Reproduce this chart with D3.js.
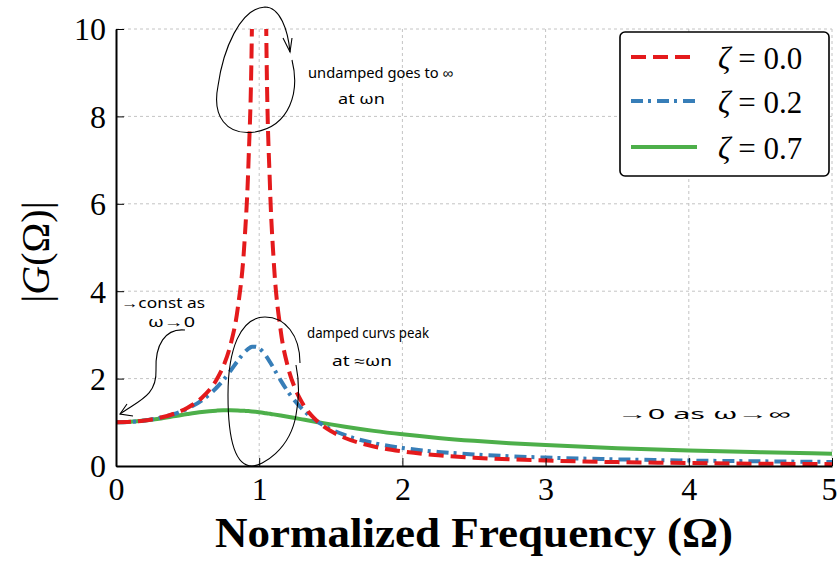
<!DOCTYPE html>
<html>
<head>
<meta charset="utf-8">
<script src="https://cdn.jsdelivr.net/npm/d3@7/dist/d3.min.js"></script>
<style>
  html, body { margin: 0; padding: 0; background: #fff; }
  svg { display: block; }
</style>
</head>
<body>
<svg id="chart" width="838" height="562"></svg>
<script>
// ---- Data ----
const omega = [0, 0.1, 0.2, 0.3, 0.4, 0.5, 0.6, 0.7, 0.75, 0.8, 0.85, 0.9, 0.925, 0.95, 0.975, 1.0,
  1.025, 1.05, 1.075, 1.1, 1.15, 1.2, 1.25, 1.3, 1.4, 1.5, 1.6, 1.8, 2.0, 2.25, 2.5, 2.75, 3.0, 3.5, 4.0, 4.5, 5.0];
const zeta00 = [1.0, 1.010, 1.042, 1.099, 1.190, 1.333, 1.563, 1.961, 2.286, 2.778, 3.604, 5.263, 6.926, 10.26, 20.25, null,
  19.75, 9.756, 6.426, 4.762, 3.101, 2.273, 1.778, 1.449, 1.042, 0.800, 0.641, 0.446, 0.333, 0.246, 0.190, 0.152, 0.125, 0.089, 0.067, 0.052, 0.042];
const zeta02 = [1.0, 1.010, 1.041, 1.097, 1.184, 1.314, 1.505, 1.785, 1.968, 2.180, 2.407, 2.611, 2.685, 2.727, 2.731, 2.693,
  2.616, 2.509, 2.380, 2.241, 1.959, 1.704, 1.486, 1.305, 1.031, 0.841, 0.704, 0.524, 0.413, 0.323, 0.265, 0.223, 0.193, 0.152, 0.125, 0.107, 0.093];
const zeta07 = [1.0, 1.010, 1.039, 1.082, 1.135, 1.190, 1.237, 1.267, 1.275, 1.276, 1.272, 1.262, 1.256, 1.248, 1.239, 1.229,
  1.218, 1.207, 1.194, 1.181, 1.154, 1.126, 1.097, 1.067, 1.008, 0.952, 0.899, 0.804, 0.725, 0.643, 0.577, 0.523, 0.478, 0.408, 0.355, 0.315, 0.283];
const seriesNames = ["\u03B6 = 0.0", "\u03B6 = 0.2", "\u03B6 = 0.7"];
const xTicks = [0, 1, 2, 3, 4, 5];
const yTicks = [0, 2, 4, 6, 8, 10];
const xLabel = "Normalized Frequency (\u03A9)";
const annotations = [
  {text: "undamped goes to \u221E", x: 308, y: 78, w: 145},
  {text: "at \u03C9n", x: 338, y: 104, w: 47},
  {text: "\u2192const as", x: 121, y: 308, w: 84},
  {text: "\u03C9\u21920", x: 148, y: 327, w: 47},
  {text: "damped curvs peak", x: 307, y: 338, w: 122},
  {text: "at \u2248\u03C9n", x: 332, y: 366, w: 60},
  {text: "\u21920  as  \u03C9\u2192\u221E", x: 617, y: 419, w: 173}
];

// ---- Layout ----
const svg = d3.select("#chart");
const L = 116, R = 832, T = 29, B = 466;
const x = d3.scaleLinear().domain([0, 5]).range([L, R]);
const y = d3.scaleLinear().domain([0, 10]).range([B, T]);
const serif = "'Liberation Serif', 'DejaVu Serif', serif";

// grid
const grid = svg.append("g");
grid.selectAll("line.gx").data(xTicks.filter(d => d > 0)).join("line")
  .attr("x1", d => x(d)).attr("x2", d => x(d)).attr("y1", T).attr("y2", B)
  .attr("stroke", "#c4c4c4").attr("stroke-width", 1).attr("stroke-dasharray", "3,3");
grid.selectAll("line.gy").data(yTicks.filter(d => d > 0)).join("line")
  .attr("x1", L).attr("x2", R).attr("y1", d => y(d)).attr("y2", d => y(d))
  .attr("stroke", "#c4c4c4").attr("stroke-width", 1).attr("stroke-dasharray", "3,3");

// clip
svg.append("clipPath").attr("id", "plotclip").append("rect")
  .attr("x", L).attr("y", T).attr("width", R - L).attr("height", B - T);

const styles = [
  {vals: zeta00, color: "#e41a1c", dash: "15,7", width: 4},
  {vals: zeta02, color: "#377eb8", dash: "12,5,3,6", width: 4},
  {vals: zeta07, color: "#4daf4a", dash: null, width: 4}
];
const line = d3.line().defined(d => d[1] !== null)
  .x(d => x(d[0])).y(d => y(d[1])).curve(d3.curveMonotoneX);
const lines = svg.append("g").attr("clip-path", "url(#plotclip)");
styles.slice().reverse().forEach(s => {
  lines.append("path")
    .datum(omega.map((o, i) => [o, s.vals[i]]))
    .attr("d", line)
    .attr("fill", "none")
    .attr("stroke", s.color)
    .attr("stroke-width", s.width)
    .attr("stroke-dasharray", s.dash);
});

// axes
const xAxis = svg.append("g").attr("transform", `translate(0,${B})`)
  .call(d3.axisBottom(x).tickValues(xTicks).tickSizeInner(-8).tickSizeOuter(0).tickPadding(14).tickFormat(d3.format("d")));
const yAxis = svg.append("g").attr("transform", `translate(${L},0)`)
  .call(d3.axisLeft(y).tickValues(yTicks).tickSizeInner(-8).tickSizeOuter(0).tickPadding(10).tickFormat(d3.format("d")));
[xAxis, yAxis].forEach(a => {
  a.select(".domain").attr("stroke", "#000").attr("stroke-width", 2);
  a.selectAll(".tick line").attr("stroke", "#000").attr("stroke-width", 1);
  a.selectAll(".tick text").attr("font-family", serif).attr("font-size", 32).attr("fill", "#000");
});
xAxis.selectAll(".tick text").attr("dy", "0.62em");
// keep the last x tick label inside the picture
xAxis.selectAll(".tick text").filter(d => d === 5).attr("text-anchor", "end").attr("x", 837 - R);
yAxis.selectAll(".tick text").attr("dy", "0.34em");

// axis labels
svg.append("text").attr("x", 215).attr("y", 547)
  .attr("font-family", serif).attr("font-weight", "bold").attr("font-size", 42)
  .attr("textLength", 518).attr("lengthAdjust", "spacingAndGlyphs")
  .text(xLabel);
const yl = svg.append("text").attr("transform", "translate(49,252) rotate(-90)")
  .attr("text-anchor", "middle").attr("font-family", serif).attr("font-size", 40);
yl.append("tspan").text("|");
yl.append("tspan").attr("font-style", "italic").text("G");
yl.append("tspan").text("(\u03A9)|");

// legend
const lg = svg.append("g");
lg.append("rect").attr("x", 620).attr("y", 32).attr("width", 209).attr("height", 144)
  .attr("rx", 5).attr("fill", "#fff").attr("stroke", "#000").attr("stroke-width", 1.6);
const ly = [57, 101, 147];
styles.forEach((s, i) => {
  lg.append("line").attr("x1", 631).attr("x2", 697).attr("y1", ly[i]).attr("y2", ly[i])
    .attr("stroke", s.color).attr("stroke-width", s.width).attr("stroke-dasharray", s.dash);
  const t = lg.append("text").attr("x", 718).attr("y", ly[i] + 12)
    .attr("font-family", serif).attr("font-size", 31);
  t.append("tspan").attr("font-style", "italic").text(seriesNames[i].slice(0, 1));
  t.append("tspan").text(seriesNames[i].slice(1));
});

// hand-drawn annotations
const ann = svg.append("g").attr("fill", "none").attr("stroke", "#000").attr("stroke-width", 1.1);
ann.append("path").attr("d", "M292,60 C300,92 290,126 255,132 C226,136 212,116 218,86 C223,50 240,8 265,7 C280,7 288,30 290,52");
ann.append("path").attr("d", "M283,38 L290,52 L292,38");
ann.append("path").attr("d", "M300,363 C300,335 285,317 265,317 C240,317 228,350 228,395 C228,440 235,466 252,466 C262,466 290,450 296,415 C300,395 298,375 296,365");
ann.append("path").attr("d", "M185,330 C165,328 155,345 156,370 C157,395 140,400 120,414");
ann.append("path").attr("d", "M127,404 L120,414 L133,416");
svg.append("g").selectAll("text").data(annotations).join("text")
  .attr("x", d => d.x).attr("y", d => d.y)
  .attr("font-family", "'Noto Sans', sans-serif").attr("font-size", 14)
  .attr("textLength", d => d.w).attr("lengthAdjust", "spacingAndGlyphs")
  .attr("fill", "#000")
  .text(d => d.text);
</script>
</body>
</html>
